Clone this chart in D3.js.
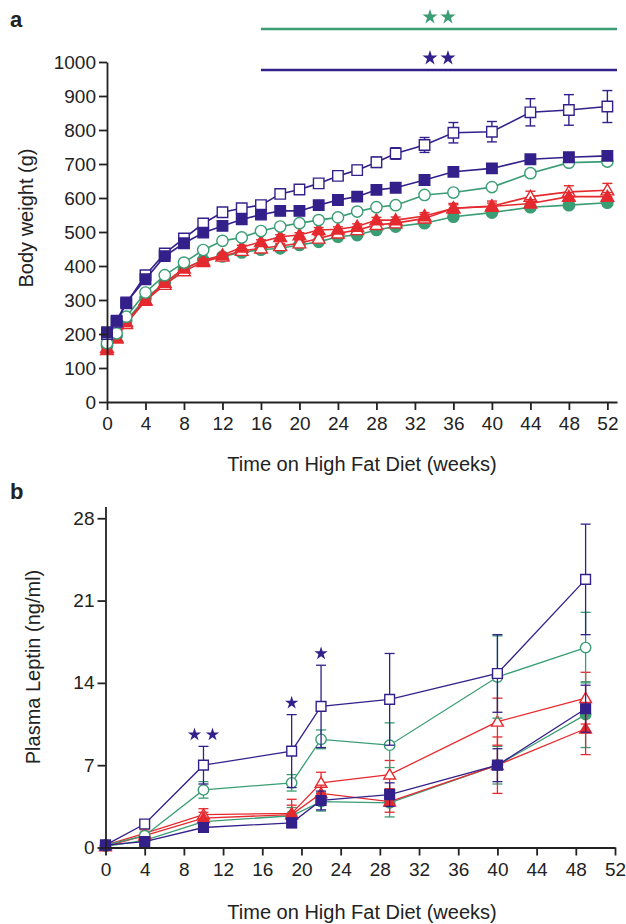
<!DOCTYPE html>
<html>
<head>
<meta charset="utf-8">
<script src="https://cdn.jsdelivr.net/npm/d3@7/dist/d3.min.js"></script>
<style>
  body { margin: 0; background: #fff; }
  text { font-family: "Liberation Sans", Arial, sans-serif; fill: #222; }
</style>
</head>
<body>
<svg id="chart" width="626" height="924"></svg>
<script>
// panel a: body weight (g)
var weeksA = [0,1,2,4,6,8,10,12,14,16,18,20,22,24,26,28,30,33,36,40,44,48,52];
var purpleOpenA  = [200,236,290,373,437,481,525,558,570,579,612,625,643,665,682,705,731,756,792,795,852,859,869];
var purpleOpenErrA = [3,3,4,5,5,6,6,6,7,8,9,10,10,12,14,15,17,22,30,30,40,45,47];
var purpleFillA  = [205,239,293,361,429,467,498,518,537,551,562,562,579,594,604,624,630,653,677,687,714,720,724];
var purpleFillErrA = [3,3,4,4,5,5,5,5,5,6,6,6,7,7,8,8,8,10,10,10,12,12,12];
var greenOpenA   = [173,202,251,322,373,410,447,474,484,503,516,526,535,543,560,573,579,609,616,632,673,704,707];
var greenOpenErrA = [3,3,4,4,5,5,5,5,5,6,6,6,6,7,7,7,8,8,8,9,10,10,10];
var greenFillA   = [165,195,240,305,350,390,418,428,440,448,452,462,471,486,491,506,516,526,545,557,573,579,586];
var greenFillErrA = [3,3,4,4,4,5,5,5,5,5,5,6,6,6,6,7,7,7,8,8,9,9,9];
var redOpenA     = [160,190,230,298,345,385,412,428,445,452,459,467,481,496,506,521,526,540,570,576,604,618,623];
var redOpenErrA  = [3,3,4,4,5,5,5,6,6,6,7,7,8,8,9,9,10,12,14,15,16,18,20];
var redFillA     = [153,187,236,300,351,393,416,432,455,471,486,491,506,508,516,535,535,547,570,575,584,604,604];
var redFillErrA  = [3,3,4,4,5,5,5,5,6,6,6,7,7,7,8,8,9,10,10,10,11,12,12];
var ticksXA = d3.range(0, 53, 4);
var ticksYA = d3.range(0, 1001, 100);
var sigStartA = 16, sigEndA = 53;

// panel b: plasma leptin (ng/ml)
var weeksB = [0,4,10,19,22,29,40,49];
var purpleOpenB  = [0.2,2.0,7.0,8.2,12.0,12.6,14.8,22.8];
var purpleOpenErrB = [0.1,0.3,1.6,3.1,3.5,3.9,3.3,4.7];
var greenOpenB   = [0.2,1.0,4.9,5.5,9.2,8.7,14.5,17.0];
var greenOpenErrB = [0.1,0.3,0.7,0.7,0.8,1.9,3.5,3.0];
var redOpenB     = [0.2,1.2,2.8,2.9,5.5,6.2,10.7,12.7];
var redOpenErrB  = [0.1,0.3,0.5,1.2,0.9,1.2,2.0,2.2];
var redFillB     = [0.1,1.0,2.5,2.8,4.6,3.9,7.0,10.1];
var redFillErrB  = [0.1,0.2,0.5,0.8,0.7,0.9,2.4,2.2];
var greenFillB   = [0.1,0.6,2.2,2.7,3.9,3.8,7.0,11.3];
var greenFillErrB = [0.1,0.2,0.4,0.7,0.8,1.2,1.6,2.8];
var purpleFillB  = [0.2,0.5,1.7,2.1,4.0,4.5,7.0,11.8];
var purpleFillErrB = [0.1,0.2,0.3,0.4,0.8,1.0,1.4,2.0];
var ticksXB = d3.range(0, 53, 4);
var ticksYB = [0, 7, 14, 21, 28];
var starsB = [{week: 10, n: 2, value: 9.6}, {week: 19, n: 1, value: 12.3}, {week: 22, n: 1, value: 16.5}];

var purple = "#34208a", green = "#3a9d74", red = "#e52a2f";

var svg = d3.select("#chart");

function seriesList(w, po, poe, pf, pfe, go, goe, gf, gfe, ro, roe, rf, rfe) {
  // drawing order: bottom first
  return [
    {x: w, y: gf, e: gfe, color: green, shape: d3.symbolCircle, open: false},
    {x: w, y: ro, e: roe, color: red, shape: d3.symbolTriangle, open: true},
    {x: w, y: rf, e: rfe, color: red, shape: d3.symbolTriangle, open: false},
    {x: w, y: go, e: goe, color: green, shape: d3.symbolCircle, open: true},
    {x: w, y: po, e: poe, color: purple, shape: d3.symbolSquare, open: true},
    {x: w, y: pf, e: pfe, color: purple, shape: d3.symbolSquare, open: false}
  ];
}

function drawPanel(g, x, y, series, opt) {
  series.forEach(function (s) {
    var pts = s.x.map(function (d, i) { return {x: d, y: s.y[i], e: s.e[i]}; });

    var eb = g.append("g").attr("stroke", s.color).attr("stroke-width", opt.ebw);
    eb.selectAll("line.v").data(pts).enter().append("line")
      .attr("x1", function (d) { return x(d.x); })
      .attr("x2", function (d) { return x(d.x); })
      .attr("y1", function (d) { return y(d.y - d.e); })
      .attr("y2", function (d) { return y(d.y + d.e); });
    [1, -1].forEach(function (sgn) {
      eb.selectAll("line.c" + sgn).data(pts).enter().append("line")
        .attr("x1", function (d) { return x(d.x) - opt.cap; })
        .attr("x2", function (d) { return x(d.x) + opt.cap; })
        .attr("y1", function (d) { return y(d.y + sgn * d.e); })
        .attr("y2", function (d) { return y(d.y + sgn * d.e); });
    });

    g.append("path")
      .datum(pts)
      .attr("fill", "none")
      .attr("stroke", s.color)
      .attr("stroke-width", opt.lw)
      .attr("d", d3.line().x(function (d) { return x(d.x); }).y(function (d) { return y(d.y); }));

    var size = s.shape === d3.symbolSquare ? opt.sq : (s.shape === d3.symbolCircle ? opt.ci : opt.tr);
    g.selectAll(null).data(pts).enter().append("path")
      .attr("transform", function (d) {
        var dy = s.shape === d3.symbolTriangle ? 1 : 0;
        return "translate(" + x(d.x) + "," + (y(d.y) + dy) + ")";
      })
      .attr("d", d3.symbol().type(s.shape).size(size))
      .attr("fill", s.open ? "#fff" : s.color)
      .attr("stroke", s.color)
      .attr("stroke-width", 1.4);
  });
}

function styleAxis(ax) {
  ax.selectAll("path, line").attr("stroke", "#222").attr("stroke-width", 1.8);
  ax.selectAll("text").style("font-size", "19px").attr("fill", "#222");
}

// ---------- panel a ----------
var xa = d3.scaleLinear().domain([0, 53]).range([107, 617]);
var ya = d3.scaleLinear().domain([0, 1000]).range([402, 62]);
var ga = svg.append("g");

drawPanel(ga, xa, ya, seriesList(weeksA, purpleOpenA, purpleOpenErrA, purpleFillA, purpleFillErrA,
  greenOpenA, greenOpenErrA, greenFillA, greenFillErrA, redOpenA, redOpenErrA, redFillA, redFillErrA),
  {lw: 1.6, ebw: 1.4, cap: 5, sq: 110, ci: 100, tr: 70});

var axa = ga.append("g")
  .attr("transform", "translate(0," + ya(0) + ")")
  .call(d3.axisBottom(xa).tickValues(ticksXA).tickSize(8).tickSizeOuter(0).tickPadding(7));
styleAxis(axa);
var aya = ga.append("g")
  .attr("transform", "translate(" + xa(0) + ",0)")
  .call(d3.axisLeft(ya).tickValues(ticksYA).tickFormat(d3.format("d")).tickSize(8).tickSizeOuter(0).tickPadding(3));
styleAxis(aya);

// significance bars
[{color: green, dy: -33}, {color: purple, dy: 8}].forEach(function (b) {
  var yy = ya(1000) + b.dy;
  ga.append("line")
    .attr("x1", xa(sigStartA)).attr("x2", xa(sigEndA))
    .attr("y1", yy).attr("y2", yy)
    .attr("stroke", b.color).attr("stroke-width", 2.6);
  [-9, 9].forEach(function (o) {
    ga.append("path")
      .attr("transform", "translate(" + (xa(34.5) + o) + "," + (yy - 12) + ")")
      .attr("d", d3.symbol().type(d3.symbolStar).size(70))
      .attr("fill", b.color);
  });
});

ga.append("text")
  .attr("transform", "translate(33,218) rotate(-90)")
  .attr("text-anchor", "middle")
  .style("font-size", "20px")
  .text("Body weight (g)");
ga.append("text")
  .attr("x", 362).attr("y", 471)
  .attr("text-anchor", "middle")
  .style("font-size", "20px")
  .text("Time on High Fat Diet (weeks)");
ga.append("text")
  .attr("x", 10).attr("y", 27)
  .style("font-size", "22px").style("font-weight", "bold")
  .text("a");

// ---------- panel b ----------
var xb = d3.scaleLinear().domain([0, 52]).range([105.5, 615]);
var yb = d3.scaleLinear().domain([0, 29]).range([847.5, 506.5]);
var gb = svg.append("g");

drawPanel(gb, xb, yb, seriesList(weeksB, purpleOpenB, purpleOpenErrB, purpleFillB, purpleFillErrB,
  greenOpenB, greenOpenErrB, greenFillB, greenFillErrB, redOpenB, redOpenErrB, redFillB, redFillErrB),
  {lw: 1.3, ebw: 1.3, cap: 5, sq: 95, ci: 85, tr: 60});

var axb = gb.append("g")
  .attr("transform", "translate(0," + yb(0) + ")")
  .call(d3.axisBottom(xb).tickValues(ticksXB).tickSize(8).tickSizeOuter(0).tickPadding(7));
styleAxis(axb);
var ayb = gb.append("g")
  .attr("transform", "translate(" + xb(0) + ",0)")
  .call(d3.axisLeft(yb).tickValues(ticksYB).tickSize(8).tickSizeOuter(0).tickPadding(3));
styleAxis(ayb);

starsB.forEach(function (s) {
  var offs = s.n === 2 ? [-9, 9] : [0];
  offs.forEach(function (o) {
    gb.append("path")
      .attr("transform", "translate(" + (xb(s.week) + o) + "," + yb(s.value) + ")")
      .attr("d", d3.symbol().type(d3.symbolStar).size(55))
      .attr("fill", purple);
  });
});

gb.append("text")
  .attr("transform", "translate(40,667) rotate(-90)")
  .attr("text-anchor", "middle")
  .style("font-size", "20px")
  .text("Plasma Leptin (ng/ml)");
gb.append("text")
  .attr("x", 362).attr("y", 919)
  .attr("text-anchor", "middle")
  .style("font-size", "20px")
  .text("Time on High Fat Diet (weeks)");
gb.append("text")
  .attr("x", 10).attr("y", 499)
  .style("font-size", "22px").style("font-weight", "bold")
  .text("b");
</script>
</body>
</html>
